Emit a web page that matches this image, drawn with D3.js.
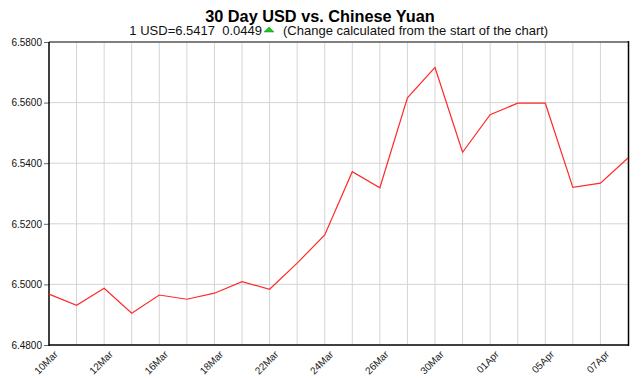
<!DOCTYPE html>
<html><head><meta charset="utf-8">
<script src="https://cdn.jsdelivr.net/npm/d3@7"></script>
<style>body{margin:0;background:#fff;}svg{display:block;font-family:"Liberation Sans",Arial,sans-serif;}text{white-space:pre;}</style>
</head><body><svg id="c" width="642" height="378"></svg>
<script>
const dates = ["10Mar","11Mar","12Mar","15Mar","16Mar","17Mar","18Mar","19Mar","22Mar","23Mar","24Mar","25Mar","26Mar","29Mar","30Mar","31Mar","01Apr","02Apr","05Apr","06Apr","07Apr","08Apr"];
const rates = [6.4968,6.4931,6.4987,6.4905,6.4965,6.4951,6.4971,6.5009,6.4984,6.5070,6.5163,6.5372,6.5319,6.5616,6.5716,6.5436,6.5560,6.5598,6.5598,6.5320,6.5334,6.5417];
const xLabels = ["10Mar","12Mar","16Mar","18Mar","22Mar","24Mar","26Mar","30Mar","01Apr","05Apr","07Apr"];
const yTicks = [6.48,6.50,6.52,6.54,6.56,6.58];
const title = "30 Day USD vs. Chinese Yuan";
const subLeft = "1 USD=6.5417  0.0449";
const subRight = "(Change calculated from the start of the chart)";

const svg = d3.select("#c");
const L=49, R=628, T=42, B=345;
const x = d3.scalePoint().domain(dates).range([L,R]);
const y = d3.scaleLinear().domain([6.48,6.58]).range([B,T]);

// grid
svg.append("g").selectAll("line").data(yTicks.slice(1,-1)).join("line")
  .attr("x1",L).attr("x2",R).attr("y1",d=>y(d)).attr("y2",d=>y(d))
  .attr("stroke","#d4d4d4").attr("stroke-width",1);
svg.append("g").selectAll("line").data(dates.slice(1,-1)).join("line")
  .attr("x1",d=>x(d)).attr("x2",d=>x(d)).attr("y1",T).attr("y2",B)
  .attr("stroke","#d4d4d4").attr("stroke-width",1);

// y axis
const ya = svg.append("g").attr("transform",`translate(${L},0)`)
  .call(d3.axisLeft(y).tickValues(yTicks).tickFormat(d3.format(".4f")).tickSize(5).tickPadding(2));
ya.select(".domain").remove();
ya.selectAll(".tick line").attr("stroke","#666");
ya.selectAll("text").attr("font-size",10).attr("fill","#111").attr("font-family","Liberation Sans, Arial, sans-serif");

// x axis labels
const xa = svg.append("g").attr("transform",`translate(0,${B})`)
  .call(d3.axisBottom(x).tickValues(xLabels).tickSize(0));
xa.select(".domain").remove();
xa.selectAll("text").attr("font-size",10).attr("fill","#222")
  .attr("font-family","Liberation Sans, Arial, sans-serif")
  .attr("text-anchor","end").attr("dy",0).attr("y",0)
  .attr("transform","translate(9,10) rotate(-45)");

// border
svg.append("line").attr("x1",L).attr("x2",R+1).attr("y1",T).attr("y2",T).attr("stroke","#808080").attr("stroke-width",2);
svg.append("line").attr("x1",L).attr("x2",L).attr("y1",T).attr("y2",B+1).attr("stroke","#000").attr("stroke-width",1.5);
svg.append("line").attr("x1",R+0.5).attr("x2",R+0.5).attr("y1",T-1).attr("y2",B+1).attr("stroke","#000").attr("stroke-width",1.5);
svg.append("line").attr("x1",L).attr("x2",R+1).attr("y1",B).attr("y2",B).attr("stroke","#000").attr("stroke-width",1.5);

// line
svg.append("path").datum(rates)
  .attr("fill","none").attr("stroke","#ff2a2a").attr("stroke-width",1.2)
  .attr("d",d3.line().x((d,i)=>x(dates[i])).y(d=>y(d)));

// titles
svg.append("text").attr("x",320).attr("y",22).attr("text-anchor","middle")
  .attr("font-size",16.3).attr("font-weight","bold").attr("fill","#000").text(title);
svg.append("text").attr("x",262).attr("y",35).attr("text-anchor","end").attr("font-size",13).attr("fill","#111").text(subLeft);
const tx = 269;
svg.append("path").attr("d",`M${tx-5},${32} L${tx+5},${32} L${tx},${27} Z`).attr("fill","#1ec81e").attr("stroke","#109010").attr("stroke-width",0.5);
svg.append("text").attr("x",283).attr("y",35).attr("font-size",13).attr("fill","#111").text(subRight);
</script></body></html>
